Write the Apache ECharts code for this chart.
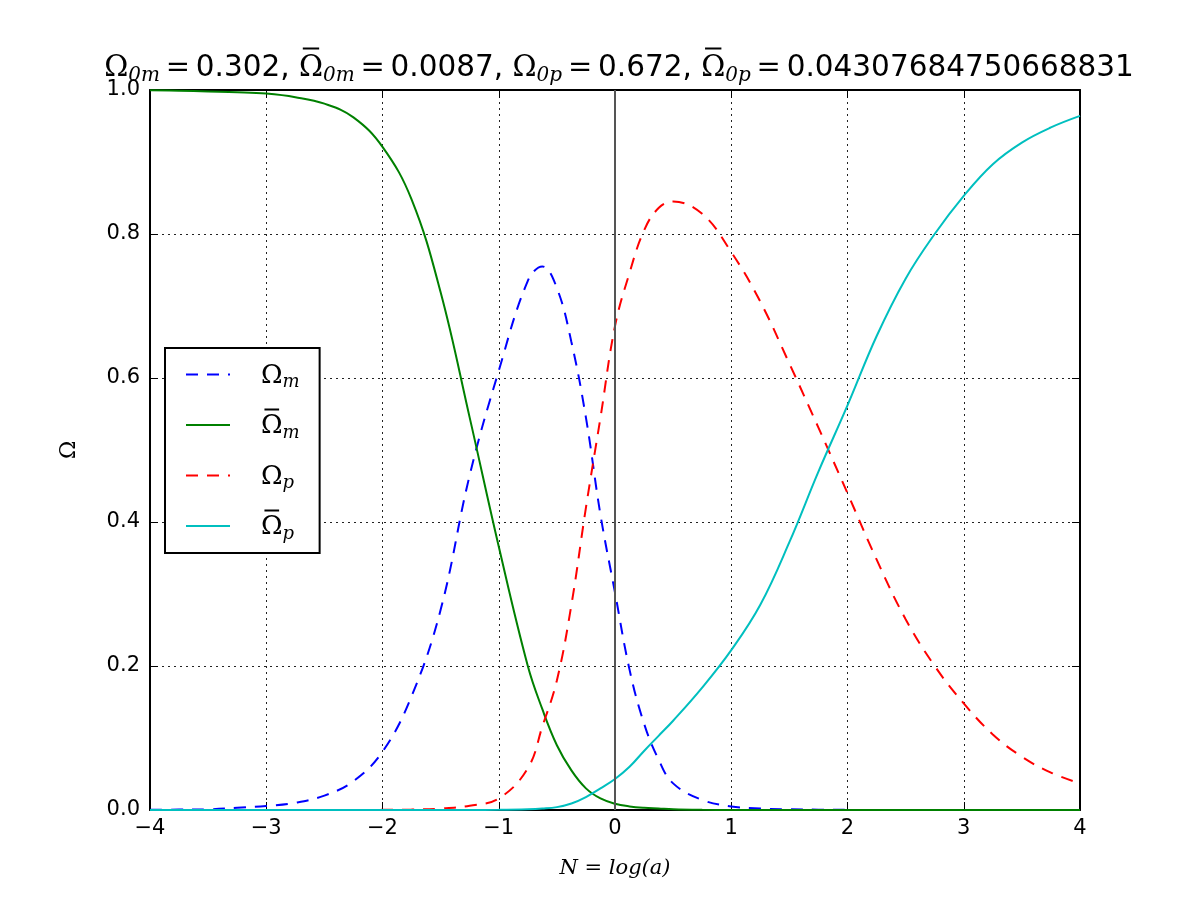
<!DOCTYPE html>
<html>
<head>
<meta charset="utf-8">
<style>
  html, body { margin: 0; padding: 0; background: #fff; }
  #chart { width: 1200px; height: 900px; }
</style>
<script src="https://cdn.jsdelivr.net/npm/echarts@6/dist/echarts.min.js"></script>
</head>
<body>
<div id="chart"></div>
<script>
// N = log(a), shared x positions
const nValues = [-4, -3.75, -3.5, -3.25, -3, -2.75, -2.5, -2.25, -2, -1.75, -1.5, -1.25, -1,
  -0.75, -0.625, -0.5, -0.375, -0.25, -0.125, 0, 0.125, 0.25, 0.375,
  0.5, 0.75, 1, 1.25, 1.5, 1.75, 2, 2.25, 2.5, 2.75, 3, 3.25, 3.5, 3.75, 4]

const omegaM = [0.0003, 0.0006, 0.001, 0.003, 0.0056, 0.01, 0.02, 0.04, 0.081, 0.158, 0.278, 0.465, 0.61,
  0.735, 0.755, 0.725, 0.65, 0.545, 0.41, 0.302, 0.195, 0.12, 0.07,
  0.037, 0.014, 0.005, 0.002, 0.001, 0.0005, 0.0002, 0, 0, 0, 0, 0, 0, 0, 0]

const omegaBarM = [0.9995, 0.999, 0.998, 0.997, 0.995, 0.99, 0.981, 0.962, 0.921, 0.848, 0.719, 0.545, 0.366,
  0.2, 0.14, 0.09, 0.055, 0.03, 0.016, 0.0087, 0.005, 0.003, 0.002,
  0.001, 0.0003, 0.0001, 0, 0, 0, 0, 0, 0, 0, 0, 0, 0, 0, 0]

const omegaP = [0, 0, 0, 0, 0, 0, 0, 0, 0.0003, 0.0007, 0.002, 0.006, 0.016,
  0.058, 0.116, 0.18, 0.285, 0.42, 0.545, 0.672, 0.746, 0.805, 0.836,
  0.845, 0.828, 0.775, 0.706, 0.62, 0.531, 0.44, 0.348, 0.265, 0.2, 0.148, 0.105, 0.074, 0.052, 0.037]

const omegaBarP = [0, 0, 0, 0, 0, 0, 0, 0, 0, 0, 0, 0, 0.0002,
  0.001, 0.002, 0.004, 0.009, 0.018, 0.03, 0.043, 0.06, 0.082, 0.103,
  0.124, 0.17, 0.222, 0.285, 0.372, 0.47, 0.562, 0.658, 0.738, 0.8, 0.853, 0.897, 0.927, 0.948, 0.964]

const seriesNames = ['Om_m', 'Obar_m', 'Om_p', 'Obar_p']
// [rich style, text, has bar]
const legendSegs = {
  Om_m: [['o', 'Ω'], ['s', 'm']],
  Obar_m: [['o', 'Ω', true], ['s', 'm']],
  Om_p: [['o', 'Ω'], ['s', 'p']],
  Obar_p: [['o', 'Ω', true], ['s', 'p']]
}
const titleSegs = [
  ['o', 'Ω'], ['s', '0m'], ['o', '\u2009=\u2009'], ['n', '0.302, '],
  ['o', 'Ω', true], ['s', '0m'], ['o', '\u2009=\u2009'], ['n', '0.0087, '],
  ['o', 'Ω'], ['s', '0p'], ['o', '\u2009=\u2009'], ['n', '0.672, '],
  ['o', 'Ω', true], ['s', '0p'], ['o', '\u2009=\u2009'], ['n', '0.04307684750668831']
]

const lineColors = ['#0000ff', '#008000', '#ff0000', '#00bfbf']
const lineTypes = [[12, 9], 'solid', [12, 9], 'solid']
const allValues = [omegaM, omegaBarM, omegaP, omegaBarP]

const serif = 'DejaVu Serif'
const sans = 'DejaVu Sans'

const titleStyles = {
  o: { fontFamily: serif, fontSize: 29, fontWeight: 'normal', color: '#000' },
  s: { fontFamily: serif, fontStyle: 'italic', fontWeight: 'normal', fontSize: 20, color: '#000', padding: [16, 0, 0, 0] },
  n: { fontFamily: sans, fontSize: 29.5, fontWeight: 'normal', color: '#000' }
}
const legendStyles = {
  o: { fontFamily: serif, fontSize: 26, color: '#000' },
  s: { fontFamily: serif, fontStyle: 'italic', fontSize: 18, color: '#000', padding: [13, 0, 0, 0] }
}

// the overbar is drawn as a thin filled box on a line above the text
const measureCtx = document.createElement('canvas').getContext('2d')
const textWidth = (text, st) => {
  measureCtx.font = `${st.fontStyle || 'normal'} normal ${st.fontSize}px ${st.fontFamily}`
  return measureCtx.measureText(text).width
}

const makeBarredText = (segs, styles, prefix, rich) => {
  Object.assign(rich, styles)
  let top = ''
  let bottom = ''
  let pending = 0
  let k = 0
  const addGap = (w) => {
    if (w <= 0) return
    const key = prefix + 'g' + k++
    rich[key] = { width: w, height: 3, fontSize: 2 }
    top += `{${key}| }`
  }
  segs.forEach(([key, t, barred]) => {
    const w = textWidth(t, styles[key])
    bottom += `{${key}|${t}}`
    if (barred) {
      addGap(pending + w * 0.16)
      const bk = prefix + 'b' + k++
      rich[bk] = { width: w * 0.68, height: 2, fontSize: 2, backgroundColor: '#000' }
      top += `{${bk}| }`
      pending = w * 0.16
    } else {
      pending += w
    }
  })
  addGap(pending)
  return top + '\n' + bottom
}

const titleRich = {}
const titleText = makeBarredText(titleSegs, titleStyles, 't', titleRich)
const legendRich = {}
const legendLabels = {}
seriesNames.forEach((name, i) => {
  legendLabels[name] = makeBarredText(legendSegs[name], legendStyles, 'l' + i, legendRich)
})

const gridLine = { show: true, lineStyle: { color: '#222', width: 1, type: [2, 4] } }
const frameLine = { show: true, onZero: false, lineStyle: { color: '#000', width: 2 } }
const innerTick = { show: true, inside: true, length: 8, lineStyle: { color: '#000', width: 1 } }

const buildSeries = () => allValues.map((vals, index) => {
  const s = {
    name: seriesNames[index],
    type: 'line',
    smooth: 0.4,
    symbol: 'none',
    showSymbol: false,
    lineStyle: { color: lineColors[index], width: 2, type: lineTypes[index] },
    itemStyle: { color: lineColors[index] },
    data: nValues.map((n, i) => [n, vals[i]]),
    z: 3
  }
  if (index === 0) {
    s.markLine = {
      silent: true,
      symbol: 'none',
      label: { show: false },
      lineStyle: { color: '#555', width: 2, type: 'solid' },
      data: [{ xAxis: 0 }]
    }
  }
  return s
})

const chart = echarts.init(document.getElementById('chart'), null, { renderer: 'canvas' })

const option = {
  animation: false,
  backgroundColor: '#fff',
  title: {
    text: titleText,
    left: 614,
    top: 42,
    textAlign: 'center',
    textStyle: {
      fontWeight: 'normal',
      rich: titleRich
    }
  },
  legend: {
    orient: 'vertical',
    left: 165,
    top: 348,
    padding: [10, 20, 10, 20],
    itemGap: 17,
    itemWidth: 44,
    itemHeight: 14,
    borderColor: '#000',
    borderWidth: 2,
    borderRadius: 0,
    backgroundColor: '#fff',
    itemStyle: { opacity: 0 },
    data: seriesNames,
    formatter: (name) => legendLabels[name],
    textStyle: {
      padding: [0, 0, 0, 26],
      rich: legendRich
    }
  },
  grid: {
    left: 150,
    right: 120,
    top: 90,
    bottom: 90,
    containLabel: false
  },
  xAxis: [{
    type: 'value',
    min: -4,
    max: 4,
    interval: 1,
    position: 'bottom',
    axisLine: frameLine,
    axisTick: innerTick,
    splitLine: gridLine,
    axisLabel: {
      fontFamily: sans,
      fontSize: 21,
      color: '#000',
      margin: 8,
      formatter: (v) => String(v).replace('-', '\u2212')
    },
    name: 'N = log(a)',
    nameLocation: 'middle',
    nameGap: 48,
    nameTextStyle: { fontFamily: serif, fontStyle: 'italic', fontSize: 21, color: '#000' }
  }, {
    type: 'value',
    min: -4,
    max: 4,
    interval: 1,
    position: 'top',
    axisLine: frameLine,
    axisTick: innerTick,
    splitLine: { show: false },
    axisLabel: { show: false }
  }],
  yAxis: [{
    type: 'value',
    min: 0,
    max: 1,
    interval: 0.2,
    position: 'left',
    axisLine: frameLine,
    axisTick: innerTick,
    splitLine: gridLine,
    axisLabel: {
      fontFamily: sans,
      fontSize: 21,
      color: '#000',
      margin: 10,
      formatter: (v) => v.toFixed(1)
    },
    name: 'Ω',
    nameLocation: 'middle',
    nameRotate: 90,
    nameGap: 70,
    nameTextStyle: { fontFamily: serif, fontSize: 22, color: '#000' }
  }, {
    type: 'value',
    min: 0,
    max: 1,
    interval: 0.2,
    position: 'right',
    axisLine: frameLine,
    axisTick: innerTick,
    splitLine: { show: false },
    axisLabel: { show: false }
  }],
  series: buildSeries()
}

chart.setOption(option)
</script>
</body>
</html>
